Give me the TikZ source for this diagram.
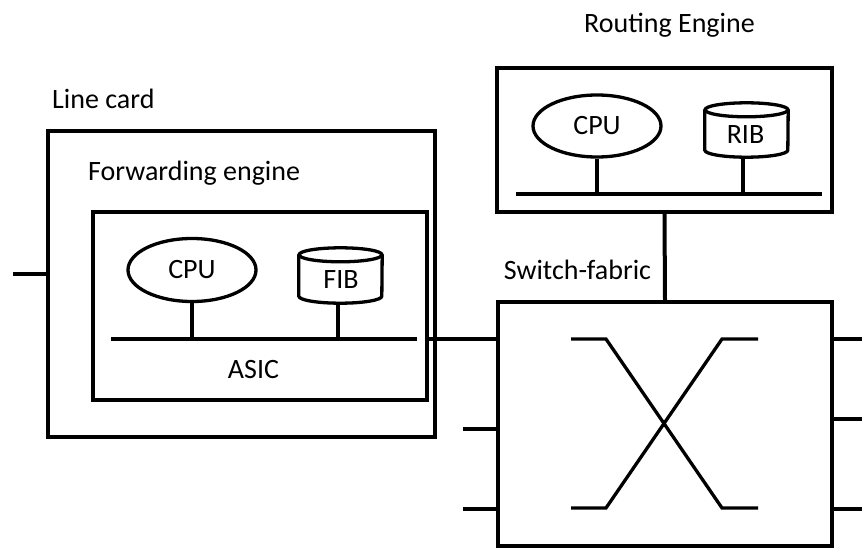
\documentclass[tikz,border=0pt]{standalone}
\usepackage{fontspec}
\setmainfont{Carlito}
\usetikzlibrary{shapes.geometric,calc}
\tikzset{
  box/.style={draw, line width=4pt, inner sep=0pt},
  cpu/.style={draw, ellipse, line width=3.3pt, inner sep=0pt, minimum width=128pt, minimum height=63pt, font=\fontsize{28}{34}\selectfont},
  drum/.style={inner sep=0pt, minimum width=83pt, minimum height=55pt},
  wire/.style={line width=4pt},
  xwire/.style={line width=3.3pt},
  lbl/.style={inner sep=0pt, font=\fontsize{28}{34}\selectfont},
}
% storage drum drawn round a plain node
\newcommand\drawdrum[1]{%
  \draw[line width=3.3pt] ($(#1.north)+(0,7)$) ellipse [x radius=41.5, y radius=7];
  \draw[line width=3.3pt] ($(#1.north west)+(0,7)$) -- ($(#1.south west)+(0,-7)$)
    arc [start angle=180, end angle=0, x radius=41.5, y radius=7] -- ($(#1.north east)+(0,7)$);}
\begin{document}
\begin{tikzpicture}[x=1pt,y=-1pt]
\useasboundingbox (0,0) rectangle (862,548);

% ---------- line card ----------
\node[box, minimum width=387pt, minimum height=306pt] (lc) at (241.5,284) {};
\node[box, minimum width=334pt, minimum height=188pt] (fe) at (260,306) {};
\node[lbl, anchor=base west] (lctxt) at (52,109) {Line card};
\node[lbl, anchor=base west] (fetxt) at (88,181) {Forwarding engine};
\node[lbl, anchor=base] (asic) at (253.5,378) {ASIC};

\node[cpu] (fcpu) at (192,270) {CPU};
\node[drum] (fib) at (340.5,275.5) {};
\drawdrum{fib}
\node[lbl, anchor=base] (fibtxt) at (341,288) {FIB};

\coordinate (febusL) at (111,339);
\coordinate (febusR) at (417,339);
\draw[wire] (febusL) -- (febusR);
\draw[wire] (fcpu.south) -- (fcpu.south |- febusL);
\draw[wire] ([xshift=-3pt]fib.south) -- ([xshift=-3pt]fib.south |- febusL);

\coordinate (lcin) at (13,274);
\draw[wire] (lcin) -- (lcin -| lc.west);

% ---------- routing engine ----------
\node[box, minimum width=335pt, minimum height=144pt] (re) at (664.5,140) {};
\node[lbl, anchor=base] (retxt) at (669.5,33) {Routing Engine};
\node[cpu, minimum height=62pt] (rcpu) at (597,126) {CPU};
\node[drum, minimum height=54pt] (rib) at (746.5,130) {};
\drawdrum{rib}
\node[lbl, anchor=base] (ribtxt) at (745.5,144) {RIB};

\coordinate (rebusL) at (516,194);
\coordinate (rebusR) at (822,194);
\draw[wire] (rebusL) -- (rebusR);
\draw[wire] (rcpu.south) -- (rcpu.south |- rebusL);
\draw[wire] ([xshift=-4pt]rib.south) -- ([xshift=-4pt]rib.south |- rebusL);

% ---------- switch fabric ----------
\node[box, minimum width=334pt, minimum height=244pt] (sf) at (665,424) {};
\node[lbl, anchor=base] (sftxt) at (577.5,279) {Switch-fabric};
\draw[wire] (re.south) -- (sf.north);

% link from the forwarding engine into the fabric
\draw[wire] (fe.east |- febusL) -- (sf.west |- febusL);

% further fabric ports
\coordinate (inB) at (463,429);
\coordinate (inC) at (463,509);
\draw[wire] (inB) -- (inB -| sf.west);
\draw[wire] (inC) -- (inC -| sf.west);
\coordinate (outA) at (862,339);
\coordinate (outB) at (862,419);
\coordinate (outC) at (862,509);
\draw[wire] (sf.east |- outA) -- (outA);
\draw[wire] (sf.east |- outB) -- (outB);
\draw[wire] (sf.east |- outC) -- (outC);

% crossbar symbol
\draw[xwire] ($(sf.center)+(-94,-85)$) -- ($(sf.center)+(-59,-85)$)
  -- ($(sf.center)+(57,84)$) -- ($(sf.center)+(93,84)$);
\draw[xwire] ($(sf.center)+(-94,84)$) -- ($(sf.center)+(-59,84)$)
  -- ($(sf.center)+(57,-85)$) -- ($(sf.center)+(93,-85)$);
\end{tikzpicture}
\end{document}
